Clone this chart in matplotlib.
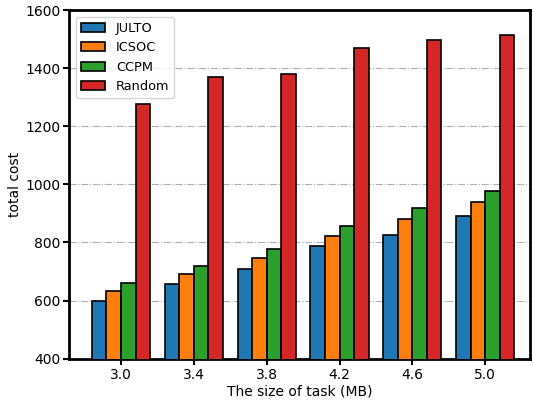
import matplotlib
matplotlib.use('Agg')
import matplotlib.pyplot as plt
import numpy as np

sizes = ['3.0', '3.4', '3.8', '4.2', '4.6', '5.0']
julto = [598, 658, 710, 788, 826, 892]
icsoc = [634, 692, 747, 823, 881, 938]
ccpm = [660, 720, 778, 857, 919, 978]
rand = [1278, 1370, 1380, 1470, 1497, 1515]

x = np.arange(len(sizes))
width = 0.2

fig, ax = plt.subplots(figsize=(5.33, 4.03), dpi=100)
series = [(julto, 'JULTO', '#1f77b4'), (icsoc, 'ICSOC', '#ff7f0e'),
          (ccpm, 'CCPM', '#2ca02c'), (rand, 'Random', '#d62728')]
for i, (vals, name, col) in enumerate(series):
    ax.bar(x + (i - 1.5) * width, vals, width, label=name, color=col,
           edgecolor='black', linewidth=1.2, zorder=3)

ax.set_ylim(400, 1600)
ax.set_xlim(-0.71, 5.62)
ax.set_xticks(x)
ax.set_xticklabels(sizes)
ax.set_xlabel('The size of task (MB)', labelpad=2)
ax.set_ylabel('total cost', labelpad=2)
ax.yaxis.grid(True, linestyle='-.', color='#b0b0b0', linewidth=0.8, zorder=0)
for s in ax.spines.values():
    s.set_linewidth(2)
ax.tick_params(width=1.5, length=4, pad=2.5)
ax.legend(loc='upper left', fontsize=9.3, handlelength=1.9)

fig.subplots_adjust(left=0.13, right=0.995, top=0.975, bottom=0.11)
fig.savefig('out.png')
